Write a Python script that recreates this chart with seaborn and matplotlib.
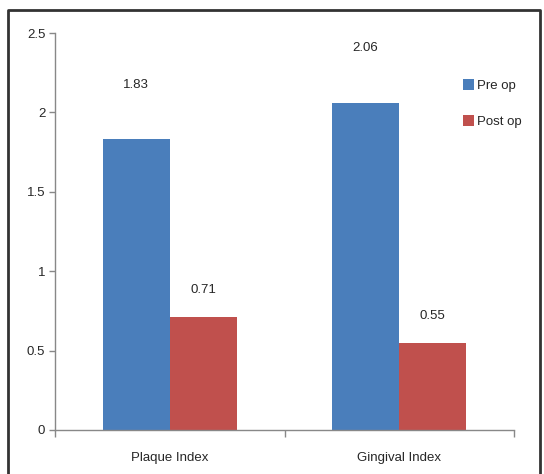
import matplotlib
matplotlib.use("Agg")
import matplotlib.pyplot as plt
import seaborn as sns
import pandas as pd
from matplotlib.lines import Line2D

categories = ["Plaque Index", "Gingival Index"]
series = ["Pre op", "Post op"]
pre_op = [1.83, 2.06]
post_op = [0.71, 0.55]
colors = ["#4a7ebb", "#c0504d"]

df = pd.DataFrame({
    "Index": categories * 2,
    "Period": [series[0]] * 2 + [series[1]] * 2,
    "Value": pre_op + post_op,
})

sns.set_style("ticks")
plt.rcParams["font.family"] = ["Liberation Sans", "DejaVu Sans"]

fig = plt.figure(figsize=(5.44, 4.74), dpi=100)
ax = fig.add_axes([55 / 544, 1 - 430 / 474, 459 / 544, 397 / 474])

sns.barplot(data=df, x="Index", y="Value", hue="Period", palette=colors,
            width=0.585, ax=ax, saturation=1, legend=True, linewidth=0,
            edgecolor="none")

ax.set_ylim(0, 2.5)
ax.set_xlim(-0.5, 1.5)
ax.set_yticks([0, 0.5, 1, 1.5, 2, 2.5])
ax.set_yticklabels(["0", "0.5", "1", "1.5", "2", "2.5"], fontsize=9.5)
ax.set_xlabel("")
ax.set_ylabel("")
ax.tick_params(axis="x", which="major", length=0, labelsize=9.5, pad=16)
ax.set_xticks([-0.5, 0.5, 1.5], minor=True)
ax.tick_params(axis="x", which="minor", length=5, width=1, color="#888888", direction="out")
ax.tick_params(axis="y", length=4, width=1, color="#888888", direction="out", pad=3)
for s in ["top", "right"]:
    ax.spines[s].set_visible(False)
for s in ["left", "bottom"]:
    ax.spines[s].set_color("#888888")
    ax.spines[s].set_linewidth(1)

pads = [35, 15]
for cont, pad in zip(ax.containers, pads):
    ax.bar_label(cont, labels=[f"{v:.2f}" for v in cont.datavalues], padding=pad, fontsize=9.5)

handles, labels = ax.get_legend_handles_labels()
ax.legend(handles, labels, loc="upper left", bbox_to_anchor=(0.862, 0.915),
          frameon=False, fontsize=9.5, labelspacing=1.8, handlelength=0.9,
          handleheight=0.9, handletextpad=0.2)

# outer frame
fx0, fx1 = 8 / 544, 540 / 544
fy1 = 1 - 10 / 474
fig.add_artist(Line2D([fx0, fx0, fx1, fx1], [-0.01, fy1, fy1, -0.01],
                      transform=fig.transFigure, color="#333333", lw=2))

fig.savefig("out.png", dpi=100)
